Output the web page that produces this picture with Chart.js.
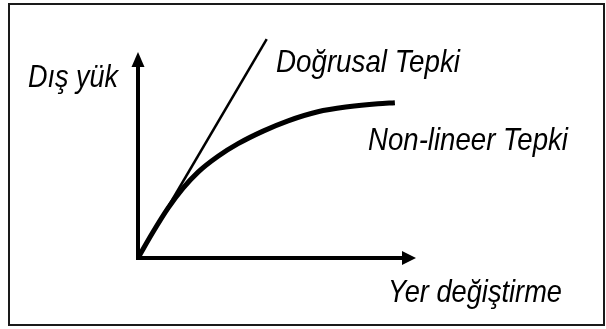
<!DOCTYPE html>
<html>
<head>
<meta charset="utf-8">
<script src="https://cdn.jsdelivr.net/npm/chart.js@4.4.0/dist/chart.umd.min.js"></script>
<style>
  html, body { margin:0; padding:0; background:#fff; }
  #wrap { position:relative; width:606px; height:329px; }
</style>
</head>
<body>
<div id="wrap"><canvas id="chart"></canvas></div>
<script>
// values (arbitrary units, axes 0..100)
const linearX = [0, 46.3];
const linearY = [0, 106.2];
const curveX = [0, 5.4, 10.8, 16.2, 21.6, 28.8, 36.0, 45.0, 54.0, 64.7, 75.5, 86.3, 92.4];
const curveY = [0, 12.6, 24.2, 33.9, 41.7, 49.4, 55.5, 61.6, 66.6, 71.0, 73.4, 74.9, 75.4];
const axisMax = [100, 100];
const yLabel = 'Dış yük';
const xLabel = 'Yer değiştirme';
const seriesNames = ['Doğrusal Tepki', 'Non-lineer Tepki'];

const toPts = (xs, ys) => xs.map((x, i) => ({ x, y: ys[i] }));

// text: [label, left px, baseline px, width px]
const texts = [
  [yLabel, 28, 87, 90],
  [seriesNames[0], 276, 72, 184],
  [seriesNames[1], 368, 150, 200],
  [xLabel, 388, 302, 174]
];

const decor = {
  id: 'decor',
  beforeDraw(chart) {
    const ctx = chart.ctx;
    ctx.save();
    ctx.fillStyle = '#fff';
    ctx.fillRect(0, 0, chart.width, chart.height);
    ctx.strokeStyle = '#1a1a1a';
    ctx.lineWidth = 2;
    ctx.strokeRect(9, 4, 595, 321);
    ctx.restore();
  },
  afterDatasetsDraw(chart) {
    const ctx = chart.ctx;
    const xs = chart.scales.x, ys = chart.scales.y;
    const ox = xs.getPixelForValue(0), oy = ys.getPixelForValue(0);
    const xe = xs.getPixelForValue(axisMax[0]), ye = ys.getPixelForValue(axisMax[1]);
    ctx.save();
    ctx.strokeStyle = '#000'; ctx.fillStyle = '#000';
    ctx.lineWidth = 4; ctx.lineCap = 'square';
    ctx.beginPath();
    ctx.moveTo(ox, ye + 14); ctx.lineTo(ox, oy); ctx.lineTo(xe - 14, oy);
    ctx.stroke();
    // arrowheads
    ctx.beginPath();
    ctx.moveTo(ox, ye); ctx.lineTo(ox - 6.5, ye + 15); ctx.lineTo(ox + 6.5, ye + 15); ctx.closePath();
    ctx.fill();
    ctx.beginPath();
    ctx.moveTo(xe, oy); ctx.lineTo(xe - 14, oy - 7); ctx.lineTo(xe - 14, oy + 7); ctx.closePath();
    ctx.fill();
    // labels
    ctx.font = 'italic 32px "Liberation Sans Narrow", "Liberation Sans", Arial, sans-serif';
    ctx.textBaseline = 'alphabetic';
    ctx.textAlign = 'left';
    texts.forEach(([t, x, y, w]) => ctx.fillText(t, x, y, w));
    ctx.restore();
  }
};

new Chart(document.getElementById('chart'), {
  type: 'scatter',
  data: {
    datasets: [
      { label: seriesNames[0], data: toPts(linearX, linearY), showLine: true,
        borderColor: '#000', borderWidth: 2.5, pointRadius: 0, clip: false },
      { label: seriesNames[1], data: toPts(curveX, curveY), showLine: true,
        borderColor: '#000', borderWidth: 5, pointRadius: 0, clip: false,
        cubicInterpolationMode: 'monotone' }
    ]
  },
  options: {
    responsive: true,
    maintainAspectRatio: false,
    animation: false,
    layout: { padding: { left: 138, right: 190, top: 52, bottom: 71 } },
    scales: {
      x: { type: 'linear', min: 0, max: axisMax[0], display: false },
      y: { type: 'linear', min: 0, max: axisMax[1], display: false }
    },
    plugins: { legend: { display: false }, tooltip: { enabled: false } }
  },
  plugins: [decor]
});
</script>
</body>
</html>
